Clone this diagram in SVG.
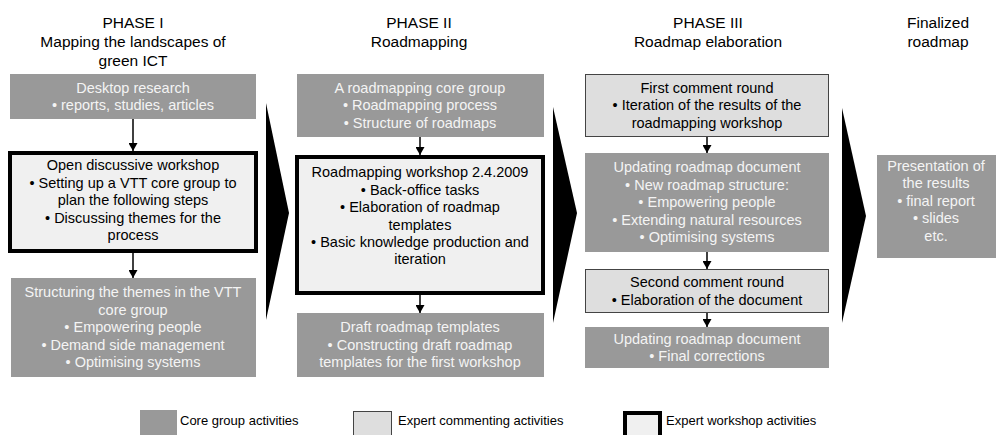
<svg xmlns="http://www.w3.org/2000/svg" width="998" height="435" viewBox="0 0 998 435">
<defs>
<style>
text{font-family:"Liberation Sans",Arial,sans-serif;text-anchor:middle;}
.h{font-size:15.5px;fill:#000;}
.t{font-size:14.5px;}
.w{fill:#f4f4f4;}
.k{fill:#000;}
.core{fill:#999999;}
.comm{fill:#dedede;stroke:#444;stroke-width:1;}
.ws{fill:#f0f0f0;stroke:#000;stroke-width:4;}
.conn{stroke:#000;stroke-width:1.5;fill:none;marker-end:url(#ah);}
.leg{font-size:13px;text-anchor:start;fill:#000;}
</style>
<marker id="ah" markerUnits="userSpaceOnUse" markerWidth="9" markerHeight="9" refX="8" refY="4.5" orient="auto">
<path d="M0,0 L8,4.5 L0,9 Z" fill="#000"/>
</marker>
</defs>
<rect width="998" height="435" fill="#fff"/>

<g id="headers">
<text class="h" x="133" y="28">PHASE I</text>
<text class="h" x="133" y="47">Mapping the landscapes of</text>
<text class="h" x="133" y="66">green ICT</text>
<text class="h" x="419" y="28">PHASE II</text>
<text class="h" x="419" y="47">Roadmapping</text>
<text class="h" x="708" y="28">PHASE III</text>
<text class="h" x="708" y="47">Roadmap elaboration</text>
<text class="h" x="938" y="28">Finalized</text>
<text class="h" x="938" y="47">roadmap</text>
</g>

<g id="chevrons">
<polygon points="266,103 289,213 266,320" fill="#000"/>
<polygon points="553,107 577,213 553,323" fill="#000"/>
<polygon points="842,108 866,216 842,323" fill="#000"/>
</g>

<g id="n-desktop">
<rect class="core" x="10" y="74" width="246" height="45"/>
<text class="t w" x="133" y="93">Desktop research</text>
<text class="t w" x="133" y="110">• reports, studies, articles</text>
</g>

<g id="n-open-workshop">
<rect class="ws" x="10" y="153" width="246" height="98"/>
<text class="t k" x="133" y="170">Open discussive workshop</text>
<text class="t k" x="133" y="188">• Setting up a VTT core group to</text>
<text class="t k" x="133" y="205">plan the following steps</text>
<text class="t k" x="133" y="223">• Discussing themes for the</text>
<text class="t k" x="133" y="240">process</text>
</g>

<g id="n-structuring">
<rect class="core" x="11" y="278" width="245" height="99"/>
<text class="t w" x="133" y="297">Structuring the themes in the VTT</text>
<text class="t w" x="133" y="315">core group</text>
<text class="t w" x="133" y="332">• Empowering people</text>
<text class="t w" x="133" y="350">•  Demand side management</text>
<text class="t w" x="133" y="367">• Optimising systems</text>
</g>

<g id="n-rm-core">
<rect class="core" x="297" y="74" width="247" height="63"/>
<text class="t w" x="420" y="93">A roadmapping core group</text>
<text class="t w" x="420" y="110">• Roadmapping process</text>
<text class="t w" x="420" y="128">• Structure of roadmaps</text>
</g>

<g id="n-rm-workshop">
<rect class="ws" x="297" y="157" width="246" height="136"/>
<text class="t k" x="420" y="177">Roadmapping workshop 2.4.2009</text>
<text class="t k" x="420" y="195">• Back-office tasks</text>
<text class="t k" x="420" y="212">• Elaboration of roadmap</text>
<text class="t k" x="420" y="230">templates</text>
<text class="t k" x="420" y="247">• Basic knowledge production and</text>
<text class="t k" x="420" y="264">iteration</text>
</g>

<g id="n-draft">
<rect class="core" x="297" y="313" width="247" height="64"/>
<text class="t w" x="420" y="332">Draft roadmap templates</text>
<text class="t w" x="420" y="350">• Constructing draft roadmap</text>
<text class="t w" x="420" y="367">templates for the first workshop</text>
</g>

<g id="n-first-comment">
<rect class="comm" x="585.5" y="74.5" width="243" height="62"/>
<text class="t k" x="707" y="93">First comment round</text>
<text class="t k" x="707" y="110">• Iteration of the results of the</text>
<text class="t k" x="707" y="128">roadmapping workshop</text>
</g>

<g id="n-update1">
<rect class="core" x="585" y="153" width="244" height="99"/>
<text class="t w" x="707" y="172">Updating roadmap document</text>
<text class="t w" x="707" y="190">• New roadmap structure:</text>
<text class="t w" x="707" y="207">• Empowering people</text>
<text class="t w" x="707" y="225">• Extending natural resources</text>
<text class="t w" x="707" y="242">• Optimising systems</text>
</g>

<g id="n-second-comment">
<rect class="comm" x="585.5" y="269.5" width="243" height="43"/>
<text class="t k" x="707" y="287">Second comment round</text>
<text class="t k" x="707" y="305">•  Elaboration of the document</text>
</g>

<g id="n-update2">
<rect class="core" x="585" y="327" width="244" height="41"/>
<text class="t w" x="707" y="344">Updating roadmap document</text>
<text class="t w" x="707" y="361">• Final corrections</text>
</g>

<g id="n-presentation">
<rect class="core" x="877" y="155" width="119" height="103"/>
<text class="t w" x="936" y="171">Presentation of</text>
<text class="t w" x="936" y="188">the results</text>
<text class="t w" x="936" y="206">• final report</text>
<text class="t w" x="936" y="223">• slides</text>
<text class="t w" x="936" y="241">etc.</text>
</g>

<g id="connectors">
<line class="conn" x1="133" y1="119" x2="133" y2="151"/>
<line class="conn" x1="133" y1="253" x2="133" y2="278"/>
<line class="conn" x1="420" y1="137" x2="420" y2="155"/>
<line class="conn" x1="420" y1="295" x2="420" y2="313"/>
<line class="conn" x1="707" y1="137" x2="707" y2="153"/>
<line class="conn" x1="707" y1="252" x2="707" y2="269"/>
<line class="conn" x1="707" y1="313" x2="707" y2="327"/>
</g>

<g id="legend">
<rect class="core" x="140" y="410" width="37" height="25"/>
<text class="leg" x="180" y="425">Core group activities</text>
<rect class="comm" x="353.5" y="411.5" width="38" height="25"/>
<text class="leg" x="398" y="425">Expert commenting activities</text>
<rect class="ws" x="625" y="413" width="35" height="25"/>
<text class="leg" x="666" y="425">Expert workshop activities</text>
</g>
</svg>
